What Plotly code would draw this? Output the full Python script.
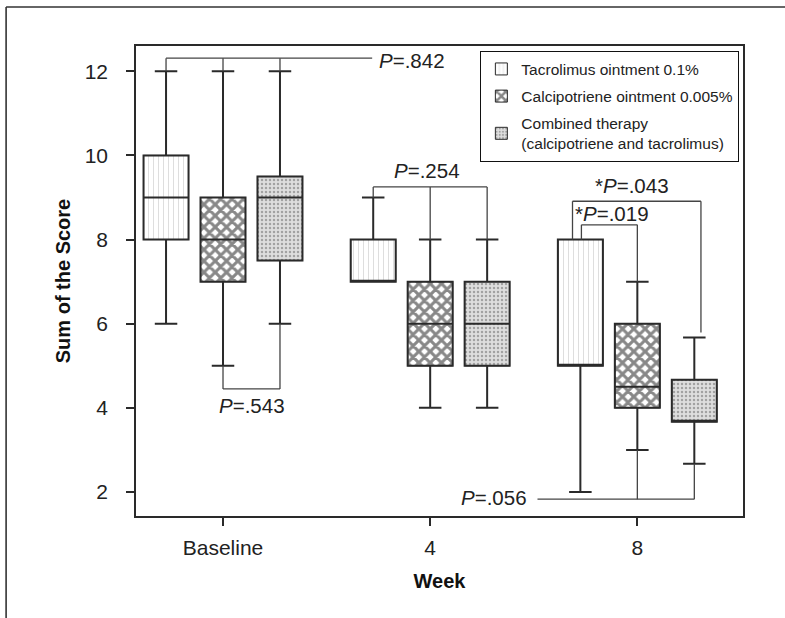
import plotly.graph_objects as go

# ---------------- data ----------------
weeks = ["Baseline", "4", "8"]
series_names = [
    "Tacrolimus ointment 0.1%",
    "Calcipotriene ointment 0.005%",
    "Combined therapy<br>(calcipotriene and tacrolimus)",
]

tac_lower = [6, 7, 2]
tac_q1 = [8, 7, 5]
tac_median = [9, 7, 5]
tac_q3 = [10, 8, 8]
tac_upper = [12, 9, 8]

cal_lower = [5, 4, 3]
cal_q1 = [7, 5, 4]
cal_median = [8, 6, 4.5]
cal_q3 = [9, 7, 6]
cal_upper = [12, 8, 7]

com_lower = [6, 4, 2.67]
com_q1 = [7.5, 5, 3.67]
com_median = [9, 6, 3.67]
com_q3 = [9.5, 7, 4.67]
com_upper = [12, 8, 5.67]

p_labels = ["<i>P</i>=.842", "<i>P</i>=.543", "<i>P</i>=.254",
            "*<i>P</i>=.043", "*<i>P</i>=.019", "<i>P</i>=.056"]
y_ticks = [2, 4, 6, 8, 10, 12]

# ---------------- styles ----------------
BOXGAP = 0.175
BOXGROUPGAP = 0.21
SLOT = (1 - BOXGAP) / 3
FONT = "Liberation Sans, Arial, sans-serif"
LINE = "#2a2a2a"

patterns = [
    dict(shape="|", fgcolor="#bdbdbd", bgcolor="white", size=5, solidity=0.2),
    dict(shape="x", fgcolor="#111111", bgcolor="white", size=8, solidity=0.62),
    dict(shape=".", fgcolor="#666666", bgcolor="#dedede", size=4, solidity=0.3),
]

stats = [
    (tac_lower, tac_q1, tac_median, tac_q3, tac_upper),
    (cal_lower, cal_q1, cal_median, cal_q3, cal_upper),
    (com_lower, com_q1, com_median, com_q3, com_upper),
]

fig = go.Figure()

# patterned box bodies (bars from q1 to q3)
for i, (name, (lo, q1, med, q3, up), pat) in enumerate(zip(series_names, stats, patterns)):
    fig.add_trace(go.Bar(
        x=weeks, base=q1, y=[b - a for a, b in zip(q1, q3)],
        name=name, legendgroup=f"g{i}",
        marker=dict(color="white", pattern=pat, line=dict(color=LINE, width=1)),
        showlegend=True, hoverinfo="skip",
    ))

# box outlines, medians, whiskers
for i, (name, (lo, q1, med, q3, up)) in enumerate(zip(series_names, stats)):
    fig.add_trace(go.Box(
        x=weeks, lowerfence=lo, q1=q1, median=med, q3=q3, upperfence=up,
        name=name, legendgroup=f"g{i}", fillcolor="rgba(0,0,0,0)",
        line=dict(color=LINE, width=2), whiskerwidth=0.5,
        showlegend=False, boxpoints=False,
    ))


def bx(g, j):
    return g + (j - 1) * SLOT


# bracket polylines (x in category units, y in data units)
brackets = [
    [(bx(0, 0), tac_upper[0]), (bx(0, 0), 12.31), (0.72, 12.31)],
    [(bx(0, 1), cal_upper[0]), (bx(0, 1), 12.31)],
    [(bx(0, 2), com_upper[0]), (bx(0, 2), 12.31)],
    [(bx(0, 1), cal_lower[0]), (bx(0, 1), 4.45), (bx(0, 2), 4.45), (bx(0, 2), com_lower[0])],
    [(bx(1, 0), tac_upper[1]), (bx(1, 0), 9.25), (bx(1, 2), 9.25), (bx(1, 2), com_upper[1])],
    [(bx(1, 1), cal_upper[1]), (bx(1, 1), 9.25)],
    [(1.687, tac_q3[2]), (1.687, 8.91), (2.307, 8.91), (2.307, 5.79)],
    [(1.73, tac_q3[2]), (1.73, 8.35), (bx(2, 1), 8.35), (bx(2, 1), cal_upper[2])],
    [(1.518, 1.83), (bx(2, 2), 1.83), (bx(2, 2), com_lower[2])],
    [(bx(2, 1), cal_lower[2]), (bx(2, 1), 1.83)],
]
shapes = []
for pts in brackets:
    for (x0, y0), (x1, y1) in zip(pts[:-1], pts[1:]):
        shapes.append(dict(type="line", xref="x", yref="y", x0=x0, y0=y0, x1=x1, y1=y1,
                           line=dict(color="#444", width=1.3), layer="above"))

# outer frame lines (paper coords)
shapes.append(dict(type="line", xref="paper", yref="paper", x0=-0.214, x1=1.08,
                   y0=1.083, y1=1.083, line=dict(color="#333", width=1.6)))
shapes.append(dict(type="line", xref="paper", yref="paper", x0=-0.214, x1=-0.214,
                   y0=1.083, y1=-0.25, line=dict(color="#333", width=1.6)))

ann_pos = [
    (0.744, 12.25, "left"),
    (0.141, 4.05, "center"),
    (0.985, 9.64, "center"),
    (1.976, 9.29, "center"),
    (1.878, 8.62, "center"),
    (1.475, 1.88, "right"),
]
annotations = []
for txt, (ax, ay, anc) in zip(p_labels, ann_pos):
    annotations.append(dict(x=ax, y=ay, xref="x", yref="y", text=txt, showarrow=False,
                            xanchor=anc, yanchor="middle",
                            font=dict(family=FONT, size=20.5, color="#222")))

fig.update_layout(
    width=785, height=618,
    margin=dict(l=136, r=42, t=46, b=102),
    paper_bgcolor="white", plot_bgcolor="white",
    barmode="group", bargap=BOXGAP, bargroupgap=BOXGROUPGAP,
    boxmode="group", boxgap=BOXGAP, boxgroupgap=BOXGROUPGAP,
    font=dict(family=FONT, color="#222"),
    shapes=shapes, annotations=annotations,
    legend=dict(x=0.567, y=0.989, xanchor="left", yanchor="top",
                bgcolor="white", bordercolor="#111", borderwidth=1.2,
                font=dict(family=FONT, size=15.5, color="#222"),
                tracegroupgap=4),
    showlegend=True,
)
fig.update_xaxes(type="category", range=[-0.42, 2.51], showgrid=False,
                 showline=True, mirror=True, linecolor=LINE, linewidth=1.5,
                 ticks="outside", ticklen=8, tickwidth=2, tickcolor=LINE,
                 ticklabelstandoff=4,
                 tickfont=dict(size=21, color="#222"),
                 title=dict(text="<b>Week</b>", font=dict(size=20, color="#111"), standoff=16))
fig.update_yaxes(range=[1.43, 12.6], showgrid=False, zeroline=False,
                 tickvals=y_ticks,
                 showline=True, mirror=True, linecolor=LINE, linewidth=1.5,
                 ticks="outside", ticklen=8, tickwidth=2, tickcolor=LINE,
                 ticklabelstandoff=14,
                 tickfont=dict(size=21, color="#222"),
                 title=dict(text="<b>Sum of the Score</b>", font=dict(size=20, color="#111"), standoff=9))

# remove the default 8px page margin so the figure sits at the window origin
fig.write_html("out.html", config={"displayModeBar": False},
               post_script="document.body.style.margin='0';")
